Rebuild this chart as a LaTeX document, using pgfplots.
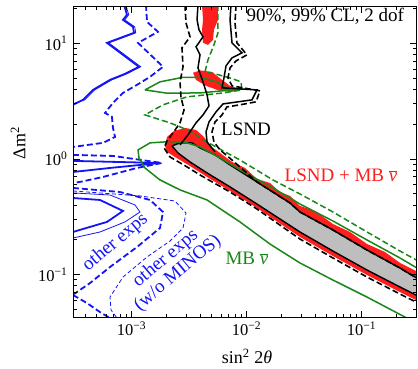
\documentclass[border=0pt]{standalone}
\usepackage{pgfplots}
\pgfplotsset{compat=1.18}
\usepackage{fontspec}
\setmainfont{Liberation Serif}
\definecolor{myblue}{RGB}{20,20,245}
\definecolor{mygreen}{RGB}{25,135,25}
\definecolor{myred}{RGB}{255,30,30}
\definecolor{mygray}{RGB}{190,190,190}
\begin{document}
\begin{tikzpicture}
\begin{axis}[
 scale only axis, width=342pt, height=310.6pt,
 xmin=-3.5, xmax=-0.526, ymin=-1.370, ymax=1.317,
 axis on top,
 tick align=inside, tick pos=both,
 xtick={-3,-2,-1}, xticklabels={10\textsuperscript{−3},10\textsuperscript{−2},10\textsuperscript{−1}},
 ytick={-1,0,1}, yticklabels={10\textsuperscript{−1},10\textsuperscript{0},10\textsuperscript{1}},
 minor xtick={-3.398,-3.301,-3.222,-3.155,-3.097,-3.046,-2.699,-2.523,-2.398,-2.301,-2.222,-2.155,-2.097,-2.046,-1.699,-1.523,-1.398,-1.301,-1.222,-1.155,-1.097,-1.046,-0.699},
 minor ytick={-1.301,-1.222,-1.155,-1.097,-1.046,-0.699,-0.523,-0.398,-0.301,-0.222,-0.155,-0.097,-0.046,0.301,0.477,0.602,0.699,0.778,0.845,0.903,0.954,1.301},
 major tick length=6pt, minor tick length=3pt,
 every tick/.style={black, line width=0.8pt},
 axis line style={line width=1pt},
 ticklabel style={font=\fontsize{16.5}{16.5}\selectfont},
 yticklabel style={xshift=-3pt},
 xticklabel style={yshift=-1pt},
 xlabel={sin\textsuperscript{2} 2\textit{θ}},
 ylabel={Δm\textsuperscript{2}},
 label style={font=\fontsize{18}{18}\selectfont},
 xlabel style={at={(axis description cs:0.506,-0.1256)}, anchor=center},
 ylabel style={at={(axis description cs:-0.1637,0.56)}, anchor=center},
]
% red (LSND + MB 99%) band
\addplot[fill=myred, draw=none] coordinates {(-2.709,0.113) (-2.691,0.190) (-2.630,0.242) (-2.535,0.268) (-2.439,0.251) (-2.370,0.190) (-2.317,0.113) (-2.230,0.052) (-2.126,-0.026) (-2.013,-0.078) (-1.909,-0.173) (-1.796,-0.208) (-1.709,-0.286) (-1.622,-0.320) (-1.535,-0.407) (-1.404,-0.450) (-1.248,-0.563) (-1.100,-0.632) (-0.952,-0.736) (-0.796,-0.805) (-0.665,-0.900) (-0.491,-0.987) (-0.491,-1.238) (-0.665,-1.152) (-0.952,-1.004) (-1.248,-0.840) (-1.535,-0.675) (-1.909,-0.424) (-2.143,-0.277) (-2.343,-0.156) (-2.491,-0.061) (-2.622,0.017) (-2.691,0.061)};
% red islands
\addplot[fill=myred, draw=none] coordinates {(-2.387,1.333) (-2.248,1.333) (-2.248,1.203) (-2.283,1.117) (-2.291,1.030) (-2.335,0.987) (-2.378,1.004) (-2.387,1.117) (-2.378,1.203)};
\addplot[fill=myred, draw=none] coordinates {(-2.465,0.745) (-2.404,0.766) (-2.300,0.753) (-2.213,0.684) (-2.143,0.632) (-2.057,0.606) (-2.126,0.580) (-2.230,0.589) (-2.352,0.632) (-2.439,0.684)};
% gray (LSND + MB 90%)
\addplot[fill=mygray, draw=black, line width=1.4pt] coordinates {(-2.648,0.113) (-2.578,0.139) (-2.474,0.139) (-2.404,0.095) (-2.274,0.035) (-2.143,-0.052) (-1.909,-0.199) (-1.622,-0.381) (-1.535,-0.459) (-1.248,-0.615) (-0.952,-0.788) (-0.665,-0.944) (-0.491,-1.048) (-0.491,-1.195) (-0.665,-1.108) (-0.952,-0.961) (-1.248,-0.797) (-1.535,-0.632) (-1.909,-0.390) (-2.143,-0.242) (-2.343,-0.121) (-2.491,-0.026) (-2.596,0.052) (-2.648,0.113)};
% blue: other exps
\addplot[myblue, line width=1.8pt] coordinates {(-3.065,1.333) (-3.039,1.247) (-3.074,1.203) (-2.987,1.143) (-2.978,1.091) (-3.213,1.004) (-2.935,0.797) (-3.057,0.736) (-3.187,0.684) (-3.335,0.597) (-3.422,0.511) (-3.509,0.468)};
\addplot[myblue, line width=0.8pt] coordinates {(-3.050,1.333) (-3.024,1.247) (-3.059,1.203) (-2.972,1.143) (-2.963,1.091) (-3.198,1.004) (-2.920,0.797) (-3.042,0.736) (-3.172,0.684) (-3.320,0.597) (-3.407,0.511) (-3.509,0.478)};
\addplot[myblue, line width=1.8pt, dash pattern=on 6pt off 3pt] coordinates {(-2.874,1.333) (-2.865,1.186) (-2.770,1.100) (-2.943,1.004) (-2.726,0.797) (-2.839,0.710) (-2.952,0.641) (-3.074,0.571) (-3.161,0.485) (-3.230,0.398) (-3.170,0.364) (-3.161,0.268) (-3.143,0.190) (-3.248,0.139) (-3.509,0.104)};
\addplot[myblue, line width=1.8pt, dash pattern=on 6pt off 3pt] coordinates {(-3.509,0.035) (-3.161,0.026) (-2.735,-0.035) (-2.952,-0.078) (-3.248,-0.156) (-3.448,-0.199) (-3.509,-0.208)};
\addplot[myblue, line width=1.8pt] coordinates {(-3.509,-0.017) (-2.752,-0.035) (-3.187,-0.078) (-3.509,-0.113)};
\addplot[myblue, line width=1.8pt] coordinates {(-3.509,-0.338) (-3.274,-0.355) (-3.074,-0.450) (-3.213,-0.545) (-3.422,-0.606) (-3.509,-0.632)};
\addplot[myblue, line width=0.8pt] coordinates {(-3.509,-0.294) (-3.187,-0.312) (-2.970,-0.398) (-2.926,-0.459) (-3.057,-0.545) (-3.274,-0.632) (-3.509,-0.684)};
\addplot[myblue, line width=1.8pt, dash pattern=on 6pt off 3pt] coordinates {(-3.509,-0.251) (-3.100,-0.286) (-2.839,-0.355) (-2.726,-0.459) (-2.752,-0.597) (-2.952,-0.762) (-3.187,-0.935) (-3.361,-1.074) (-3.500,-1.169)};
\addplot[myblue, line width=1.8pt, dash pattern=on 6pt off 3pt] coordinates {(-3.509,-1.177) (-3.387,-1.247) (-3.274,-1.325) (-3.187,-1.377)};
\addplot[myblue, line width=0.8pt, dash pattern=on 4pt off 2.5pt] coordinates {(-3.509,-0.277) (-2.926,-0.320) (-2.622,-0.364) (-2.526,-0.468) (-2.552,-0.597) (-2.665,-0.710) (-2.865,-0.848) (-3.074,-1.022) (-3.187,-1.195) (-3.178,-1.307) (-3.126,-1.377)};
% green: MB antineutrino
\addplot[mygreen, line width=1.5pt] coordinates {(-2.883,0.597) (-2.752,0.667) (-2.552,0.706) (-2.404,0.706) (-2.257,0.667) (-2.196,0.623) (-2.057,0.602) (-2.213,0.589) (-2.404,0.571) (-2.691,0.569) (-2.883,0.597)};
\addplot[mygreen, line width=1.5pt] coordinates {(-0.517,-0.944) (-0.665,-0.857) (-0.952,-0.701) (-1.248,-0.537) (-1.535,-0.390) (-1.770,-0.251) (-2.057,-0.095) (-2.230,0.009) (-2.404,0.104) (-2.517,0.139) (-2.665,0.150) (-2.839,0.139) (-2.943,0.078) (-2.935,0.009) (-2.883,-0.078) (-2.752,-0.182) (-2.578,-0.268) (-2.343,-0.355) (-2.057,-0.545) (-1.796,-0.736) (-1.535,-0.900) (-1.248,-1.048) (-0.952,-1.195) (-0.622,-1.368) (-0.578,-1.394)};
\addplot[mygreen, line width=1.5pt, dash pattern=on 6pt off 3pt] coordinates {(-2.248,1.333) (-2.248,1.091) (-2.283,0.987) (-2.335,0.857) (-2.361,0.753) (-2.274,0.736) (-2.143,0.701) (-2.048,0.667) (-2.039,0.597) (-2.204,0.571) (-2.517,0.537) (-2.726,0.468) (-2.883,0.381) (-2.665,0.312) (-2.491,0.242) (-2.378,0.165) (-2.057,-0.009) (-1.770,-0.182) (-1.535,-0.303) (-1.248,-0.459) (-0.952,-0.632) (-0.665,-0.797) (-0.491,-0.892)};
% black: LSND
\addplot[black, line width=1.5pt] coordinates {(-2.422,1.333) (-2.430,1.203) (-2.413,1.117) (-2.378,1.056) (-2.439,0.970) (-2.404,0.900) (-2.422,0.788) (-2.378,0.667) (-2.343,0.554) (-2.326,0.459) (-2.378,0.381) (-2.439,0.312) (-2.509,0.208) (-2.578,0.121)};
\addplot[black, line width=1.5pt] coordinates {(-2.135,1.333) (-2.143,1.203) (-2.126,1.004) (-2.039,0.918) (-2.126,0.874) (-2.178,0.805) (-2.196,0.701) (-2.213,0.615) (-1.909,0.597) (-1.952,0.511) (-2.204,0.476) (-2.265,0.407) (-2.326,0.320) (-2.352,0.234) (-2.343,0.147) (-2.274,0.061)};
\addplot[black, line width=1.6pt, dash pattern=on 6pt off 3pt] coordinates {(-2.535,1.333) (-2.526,1.177) (-2.491,1.056) (-2.561,0.961) (-2.552,0.797) (-2.578,0.667) (-2.570,0.537) (-2.543,0.424) (-2.578,0.312) (-2.639,0.225) (-2.691,0.156) (-2.717,0.095) (-2.665,0.017) (-2.517,-0.069) (-2.404,-0.139) (-2.143,-0.286) (-1.909,-0.433) (-1.535,-0.693) (-1.248,-0.857) (-0.952,-1.022) (-0.665,-1.169) (-0.491,-1.255)};
\addplot[black, line width=1.6pt, dash pattern=on 6pt off 3pt] coordinates {(-2.091,1.333) (-2.100,1.177) (-2.083,1.004) (-1.996,0.900) (-2.091,0.848) (-2.143,0.788) (-2.161,0.701) (-2.126,0.632) (-1.883,0.589) (-1.917,0.494) (-2.057,0.468) (-2.170,0.450) (-2.213,0.381) (-2.274,0.320) (-2.300,0.234) (-2.283,0.147) (-2.230,0.078) (-2.126,-0.009) (-1.909,-0.199) (-1.622,-0.381) (-1.535,-0.459) (-1.248,-0.615) (-0.952,-0.788) (-0.665,-0.944) (-0.491,-1.048)};
% labels
\node[anchor=east, font=\fontsize{19}{19}\selectfont] at (axis cs:-0.600,1.238) {90\%, 99\% CL, 2 dof};
\node[font=\fontsize{19}{19}\selectfont, black] at (axis cs:-2.004,0.260) {LSND};
\node[font=\fontsize{19}{19}\selectfont, myred] at (axis cs:-1.178,-0.139) {LSND + MB $\overline{\mbox{\itshape ν}}$};
\node[font=\fontsize{19}{19}\selectfont, mygreen] at (axis cs:-1.996,-0.857) {MB $\overline{\mbox{\itshape ν}}$};
\node[font=\fontsize{19}{19}\selectfont, myblue, rotate=40] at (axis cs:-3.140,-0.722) {other exps};
\node[font=\fontsize{19}{19}\selectfont, myblue, rotate=40, align=center, inner sep=1pt] at (axis cs:-2.650,-0.925) {other exps\\(w/o MINOS)};
\end{axis}
\pgfresetboundingbox
\path[use as bounding box] (-74pt,-51.7pt) rectangle (344pt,317.3pt);
\end{tikzpicture}
\end{document}
